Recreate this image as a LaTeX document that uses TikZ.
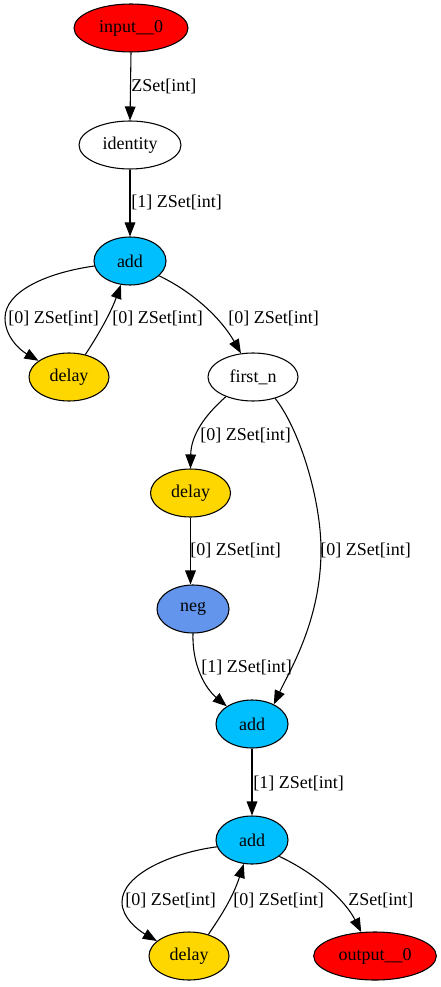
\documentclass[tikz,border=0pt]{standalone}
\usepackage{fontspec}
\setmainfont{Liberation Serif}
\usetikzlibrary{shapes.geometric,arrows.meta}
\definecolor{gvred}{HTML}{FF0000}
\definecolor{gvblue}{HTML}{00BFFF}
\definecolor{gvgold}{HTML}{FFD700}
\definecolor{gvcorn}{HTML}{6495ED}
\tikzset{
  gvnode/.style={ellipse, draw=black, line width=0.8pt, inner sep=0pt, minimum height=36pt, font=\fontsize{13.5pt}{16pt}\selectfont},
  gvedge/.style={line width=0.8pt, -{Triangle[length=10.5pt,width=8pt]}},
  gvlabel/.style={anchor=west, inner sep=0pt, font=\fontsize{13.5pt}{16pt}\selectfont}
}
\begin{document}
\begin{tikzpicture}[x=0.75pt,y=-0.75pt]
\useasboundingbox (0,0) rectangle (441,987);
\fill[white] (0,0) rectangle (441,987);
% nodes
\node[gvnode, fill=gvred, minimum width=85.5pt] (in) at (131,28) {input\_\_0};
\node[gvnode, fill=white, minimum width=76.5pt] (id) at (130,145) {identity};
\node[gvnode, fill=gvblue, minimum width=54pt] (addA) at (130,261) {add};
\node[gvnode, fill=gvgold, minimum width=60pt] (delA) at (69,377) {delay};
\node[gvnode, fill=white, minimum width=67.5pt] (fn) at (253,377) {first\_n};
\node[gvnode, fill=gvgold, minimum width=60pt] (delB) at (190.5,493) {delay};
\node[gvnode, fill=gvcorn, minimum width=54pt] (neg) at (193,609) {neg};
\node[gvnode, fill=gvblue, minimum width=54pt] (addB) at (252,724) {add};
\node[gvnode, fill=gvblue, minimum width=54pt] (addC) at (252,840) {add};
\node[gvnode, fill=gvgold, minimum width=60pt] (delC) at (189,956) {delay};
\node[gvnode, fill=gvred, minimum width=92pt] (out) at (375,956) {output\_\_0};
% edges
\draw[gvedge] (in.south) -- (id.north);
\node[gvlabel] (l1) at (131,86) {ZSet[int]};
\draw[gvedge] (id.south) -- (addA.north);
\node[gvlabel] (l2) at (131,202) {[1] ZSet[int]};
\draw[gvedge] (addA.188) .. controls (45,273) and (5,292) .. (5,318) .. controls (5,337) and (20,350) .. (delA.152);
\node[gvlabel] (l3) at (8,318) {[0] ZSet[int]};
\draw[gvedge] (delA.54) .. controls (95,340) and (110,315) .. (addA.249);
\node[gvlabel] (l4) at (112,318) {[0] ZSet[int]};
\draw[gvedge] (addA.333) .. controls (195,293) and (222,320) .. (fn.117);
\node[gvlabel] (l5) at (228,318) {[0] ZSet[int]};
\draw[gvedge] (fn.216) .. controls (205,415) and (191,435) .. (delB.north);
\node[gvlabel] (l6) at (200,435) {[0] ZSet[int]};
\draw[gvedge] (fn.316) .. controls (300,430) and (321,500) .. (321,550) .. controls (321,620) and (290,670) .. (addB.42);
\node[gvlabel] (l7) at (320,550) {[0] ZSet[int]};
\draw[gvedge] (delB.south) -- (delB.south |- neg.north);
\node[gvlabel] (l8) at (190,550) {[0] ZSet[int]};
\draw[gvedge] (neg.south) .. controls (192,665) and (205,688) .. (addB.145);
\node[gvlabel] (l9) at (201,667) {[1] ZSet[int]};
\draw[gvedge] (addB.south) -- (addC.north);
\node[gvlabel] (l10) at (253,783) {[1] ZSet[int]};
\draw[gvedge] (addC.191) .. controls (170,853) and (122,875) .. (122,902) .. controls (122,918) and (138,930) .. (delC.155);
\node[gvlabel] (l11) at (125,900) {[0] ZSet[int]};
\draw[gvedge] (delC.48) .. controls (218,920) and (232,900) .. (addC.251);
\node[gvlabel] (l12) at (233,900) {[0] ZSet[int]};
\draw[gvedge] (addC.329) .. controls (315,873) and (345,900) .. (out.120);
\node[gvlabel] (l13) at (348,900) {ZSet[int]};
\end{tikzpicture}
\end{document}
